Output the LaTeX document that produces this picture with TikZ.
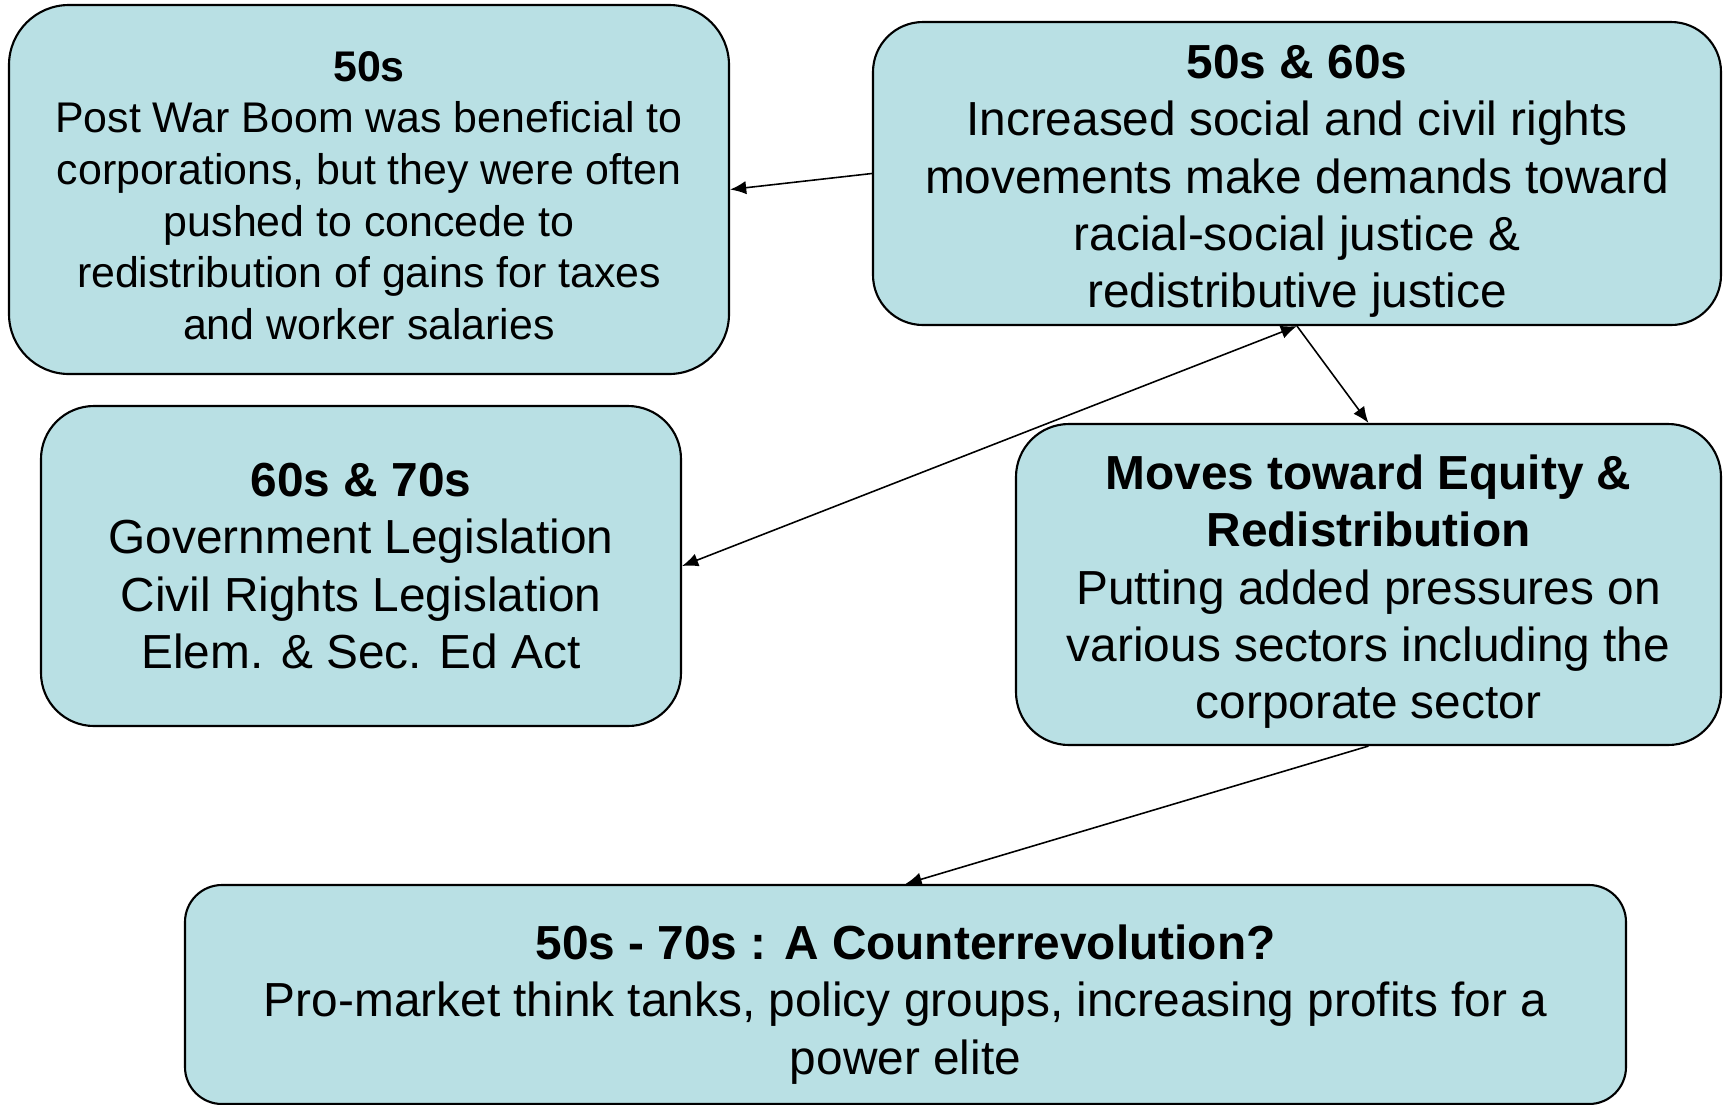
\documentclass[tikz,border=0pt]{standalone}
\usepackage{fontspec}
\setmainfont{Liberation Sans}
\usepackage{tikz}
\definecolor{azul}{RGB}{185,224,228}
\usetikzlibrary{arrows.meta}
\tikzstyle{bloco}=[rectangle, draw=black, line width=0.6pt, fill=azul, inner sep=0pt, align=center, font=\fontsize{13.6}{16.3}\selectfont]
\tikzstyle{seta}=[line width=0.45pt, -{Latex[length=4.6pt,width=3.8pt]}]

\begin{document}
\begin{tikzpicture}
				\useasboundingbox (0,0) rectangle (17.25,-11.05);
				\node[bloco, rounded corners=0.6cm, minimum width=7.2cm, minimum height=3.69cm, font=\fontsize{12.2}{14.7}\selectfont] (b50) at (3.69,-1.895) {\rule{0pt}{12pt}\textbf{50s}\\Post War Boom was beneficial to\\corporations, but they were often\\pushed to concede to\\redistribution of gains for taxes\\and worker salaries};
				\node[bloco, rounded corners=0.5cm, minimum width=8.48cm, minimum height=3.03cm] (b5060) at (12.97,-1.735) {\rule{0pt}{14pt}\textbf{50s \& 60s}\\Increased social and civil rights\\movements make demands toward\\racial-social justice \&\\redistributive justice};
				\node[bloco, rounded corners=0.53cm, minimum width=6.4cm, minimum height=3.2cm] (b6070) at (3.61,-5.66) {\textbf{60s \& 70s}\\Government Legislation\\Civil Rights Legislation\\Elem. \& Sec. Ed Act};
				\node[bloco, rounded corners=0.53cm, minimum width=7.05cm, minimum height=3.21cm] (bmoves) at (13.685,-5.845) {\rule{0pt}{14pt}\textbf{Moves toward Equity \&}\\\textbf{Redistribution}\\Putting added pressures on\\various sectors including the\\corporate sector};
				\node[bloco, rounded corners=0.37cm, minimum width=14.41cm, minimum height=2.19cm] (bcontra) at (9.055,-9.945) {\rule{0pt}{15.5pt}\textbf{50s - 70s : A Counterrevolution?}\\Pro-market think tanks, policy groups, increasing profits for a\\power elite};
				\draw[seta] (b5060.west) -- (b50.east);
				\draw[seta, {Latex[length=4.6pt,width=3.8pt]}-{Latex[length=4.6pt,width=3.8pt]}] (b6070.east) -- (b5060.south);
				\draw[seta] (b5060.south) -- (bmoves.north);
				\draw[seta] (bmoves.south) -- (bcontra.north);
			\end{tikzpicture}
\end{document}
